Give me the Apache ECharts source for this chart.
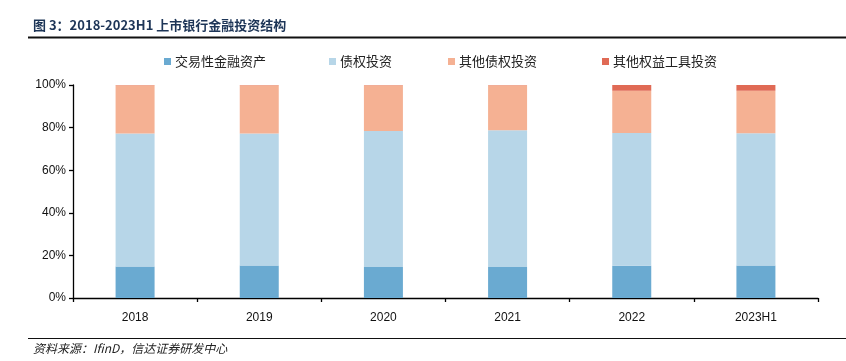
<!DOCTYPE html>
<html>
<head>
<meta charset="utf-8">
<script src="https://cdn.jsdelivr.net/npm/echarts@6/dist/echarts.min.js"></script>
<style>
html,body{margin:0;padding:0;background:#fff;}
#c{width:846px;height:361px;}
</style>
</head>
<body>
<div id="c"></div>
<script>
var categories = ['2018', '2019', '2020', '2021', '2022', '2023H1'];
var seriesNames = ['交易性金融资产', '债权投资', '其他债权投资', '其他权益工具投资'];
var tradingAssets = [14.8, 15.3, 14.5, 14.5, 15.1, 15.3];
var debtInvest = [62.4, 61.9, 63.9, 64.2, 62.4, 62.0];
var otherDebtInvest = [22.7, 22.7, 21.5, 21.2, 19.8, 20.0];
var otherEquityInvest = [0.1, 0.1, 0.1, 0.1, 2.7, 2.7];
var yTicks = [0, 20, 40, 60, 80, 100];

var colors = ['#6aaad1', '#b7d6e8', '#f5b193', '#e06a55'];
var values = [tradingAssets, debtInvest, otherDebtInvest, otherEquityInvest];
var legendLeft = [159, 324, 443, 597];

var chart = echarts.init(document.getElementById('c'), null, {renderer: 'canvas'});
var cjk = '"Noto Sans CJK SC", sans-serif';
var latin = '"Liberation Sans", Arial, sans-serif';

var legends = seriesNames.map(function (n, i) {
  return {
    data: [n],
    left: legendLeft[i],
    top: 50,
    itemWidth: 7,
    itemHeight: 7,
    itemGap: 0,
    icon: 'rect',
    textStyle: {fontFamily: cjk, fontSize: 13, color: '#222', padding: [0, 0, 0, -1]}
  };
});

var option = {
  animation: false,
  color: colors,
  legend: legends,
  grid: {left: 73, right: 28, top: 85, bottom: 63, containLabel: false},
  xAxis: {
    type: 'category',
    data: categories,
    axisLine: {lineStyle: {color: '#000', width: 1.3}},
    axisTick: {show: true, alignWithLabel: false, length: 4, lineStyle: {color: '#000', width: 1.3}},
    axisLabel: {color: '#111', fontFamily: latin, fontSize: 12, margin: 14}
  },
  yAxis: {
    type: 'value',
    min: yTicks[0],
    max: yTicks[yTicks.length - 1],
    interval: 20,
    axisLine: {show: true, lineStyle: {color: '#000', width: 1.3}},
    axisTick: {show: true, length: 4, lineStyle: {color: '#000', width: 1.3}},
    splitLine: {show: false},
    axisLabel: {color: '#111', fontFamily: latin, fontSize: 12, margin: 7, formatter: '{value}%'}
  },
  series: seriesNames.map(function (n, i) {
    return {
      name: n,
      type: 'bar',
      stack: 'total',
      barWidth: 39,
      data: values[i],
      itemStyle: {color: colors[i]}
    };
  }),
  graphic: [
    {type: 'text', left: 33, top: 19, style: {text: '图 3：2018-2023H1 上市银行金融投资结构', font: 'bold 13px "Noto Sans CJK SC", sans-serif', fill: '#1d3557'}},
    {type: 'line', shape: {x1: 28, y1: 37.5, x2: 846, y2: 37.5}, style: {stroke: '#111', lineWidth: 2}},
    {type: 'line', shape: {x1: 28, y1: 338.5, x2: 846, y2: 338.5}, style: {stroke: '#111', lineWidth: 1}},
    {type: 'text', left: 33, top: 342, style: {text: '资料来源：IfinD，信达证券研发中心', font: 'italic 12px "Noto Sans CJK SC", sans-serif', fill: '#222'}}
  ]
};
chart.setOption(option);
</script>
</body>
</html>
